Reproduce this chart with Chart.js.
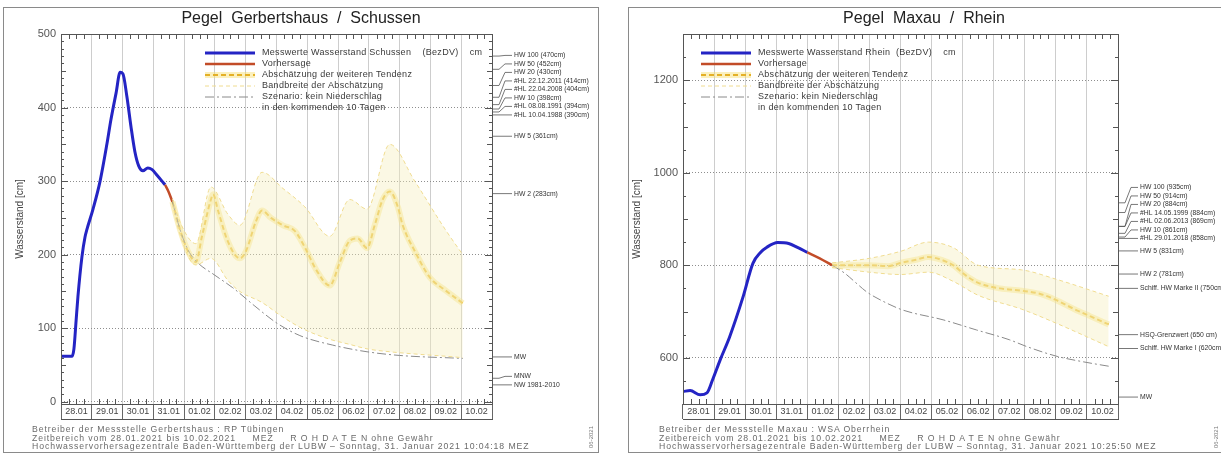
<!DOCTYPE html>
<html>
<head>
<meta charset="utf-8">
<script src="https://cdn.jsdelivr.net/npm/chart.js@4.4.1/dist/chart.umd.min.js"></script>
<style>
  body { margin: 0; width: 1221px; height: 457px; overflow: hidden; background: #fff; font-family: "Liberation Sans", Arial, sans-serif; }
  .panel { position: absolute; top: 7px; height: 446px; border: 1px solid #8a8a8a; box-sizing: border-box; }
  .panel canvas { position: absolute; left: 0; top: 0; }
  .titel { position: absolute; top: 0; left: 0; right: 0; text-align: center; font-size: 16px; line-height: 20px; letter-spacing: 0; color: #222; white-space: pre; }
  .fuss { position: absolute; top: 417px; font-size: 8.7px; line-height: 8.5px; letter-spacing: 0.9px; color: #6a6a6a; white-space: pre; }
  .kenn { position: absolute; font-size: 6px; color: #777; transform: rotate(-90deg); transform-origin: left top; white-space: pre; }
</style>
</head>
<body>
<div class="panel" id="p1" style="left:3px;width:596px;">
  <canvas id="gerbertshaus" width="594" height="444"></canvas>
  <div class="titel">Pegel  Gerbertshaus  /  Schussen</div>
  <div class="fuss" style="left:28px;">Betreiber der Messstelle Gerbertshaus : RP Tübingen
Zeitbereich vom 28.01.2021 bis 10.02.2021     MEZ     R O H D A T E N ohne Gewähr
Hochwasservorhersagezentrale Baden-Württemberg der LUBW – Sonntag, 31. Januar 2021 10:04:18 MEZ</div>
  <div class="kenn" style="left:584px;top:440px;">06-2021</div>
</div>
<div class="panel" id="p2" style="left:628px;width:600px;">
  <canvas id="maxau" width="598" height="444"></canvas>
  <div class="titel" style="right:8px;">Pegel  Maxau  /  Rhein</div>
  <div class="fuss" style="left:30px;">Betreiber der Messstelle Maxau : WSA Oberrhein
Zeitbereich vom 28.01.2021 bis 10.02.2021     MEZ     R O H D A T E N ohne Gewähr
Hochwasservorhersagezentrale Baden-Württemberg der LUBW – Sonntag, 31. Januar 2021 10:25:50 MEZ</div>
  <div class="kenn" style="left:584px;top:440px;">06-2021</div>
</div>

<script>
const dateLabels = ['28.01', '29.01', '30.01', '31.01', '01.02', '02.02', '03.02', '04.02', '05.02', '06.02', '07.02', '08.02', '09.02', '10.02'];

// Pegel Gerbertshaus / Schussen (Tage seit 28.01. 00 Uhr, Wasserstand in cm)
const gMessTage = [0, 0.36, 0.42, 0.49, 0.55, 0.68, 0.78, 0.84, 1.04, 1.27, 1.49, 1.62, 1.79, 1.92, 2.01, 2.14, 2.27, 2.40, 2.53, 2.66, 2.82, 2.95, 3.12, 3.38];
const gMessWerte = [62, 62, 72, 110, 143, 197, 224, 234, 262, 300, 350, 383, 420, 448, 446, 415, 375, 340, 320, 314, 318, 316, 308, 295];
const gVorTage = [3.38, 3.5, 3.62];
const gVorWerte = [295, 285, 272];
const gTendTage = [3.62, 3.86, 4.12, 4.38, 4.58, 4.87, 4.94, 5.10, 5.42, 5.81, 6.01, 6.33, 6.53, 6.82, 7.21, 7.60, 7.92, 8.31, 8.73, 9.06, 9.38, 9.64, 9.94, 10.19, 10.45, 10.68, 10.94, 11.10, 11.49, 11.98, 12.47, 13.05];
const gTendWerte = [272, 235, 205, 190, 225, 275, 282, 260, 218, 195, 205, 245, 260, 250, 240, 232, 210, 178, 158, 190, 219, 222, 209, 240, 275, 286, 265, 240, 205, 169, 152, 134];
const gBandTage = [3.62, 3.86, 4.38, 4.87, 5.42, 5.81, 6.53, 7.21, 7.92, 8.73, 9.38, 9.94, 10.68, 11.49, 12.47, 13.05];
const gBandOben = [276, 245, 215, 292, 255, 240, 312, 290, 265, 225, 275, 262, 350, 300, 235, 200];
const gBandUnten = [268, 228, 186, 195, 165, 150, 135, 115, 98, 85, 78, 72, 68, 65, 62, 60];
const gSzenTage = [3.62, 3.86, 4.12, 4.42, 5.0, 5.58, 6.30, 7.01, 7.76, 8.83, 9.94, 11.0, 13.05];
const gSzenWerte = [272, 235, 207, 190, 172, 155, 130, 107, 90, 77, 68, 63, 59];
const gMarkenNamen = ['HW 100 (470cm)', 'HW 50 (452cm)', 'HW 20 (430cm)', '#HL 22.12.2011 (414cm)', '#HL 22.04.2008 (404cm)', 'HW 10 (398cm)', '#HL 08.08.1991 (394cm)', '#HL 10.04.1988 (390cm)', 'HW 5 (361cm)', 'HW 2 (283cm)', 'MW', 'MNW', 'NW 1981-2010'];
const gMarkenWerte = [470, 452, 430, 414, 404, 398, 394, 390, 361, 283, 61, 32, 23];
const gLegende = ['Messwerte Wasserstand Schussen    (BezDV)    cm', 'Vorhersage', 'Abschätzung der weiteren Tendenz', 'Bandbreite der Abschätzung', 'Szenario: kein Niederschlag', 'in den kommenden 10 Tagen'];

// Pegel Maxau / Rhein
const mMessTage = [0, 0.23, 0.55, 0.77, 0.95, 1.2, 1.5, 1.93, 2.25, 2.5, 2.7, 3.05, 3.4, 3.7, 4.0];
const mMessWerte = [527, 529, 520, 524, 552, 596, 645, 731, 804, 828, 839, 849, 847, 838, 828];
const mVorTage = [4.0, 4.4, 4.8];
const mVorWerte = [828, 815, 800];
const mTendTage = [4.8, 5.3, 6.0, 6.6, 7.0, 7.5, 7.9, 8.3, 8.7, 9.1, 9.5, 10.2, 10.9, 11.5, 12.0, 12.6, 13.1, 13.7];
const mTendWerte = [800, 800, 800, 798, 805, 812, 818, 812, 800, 778, 762, 750, 745, 738, 725, 705, 690, 672];
const mBandTage = [4.8, 6.0, 7.0, 7.9, 8.7, 9.5, 10.9, 12.0, 13.7];
const mBandOben = [805, 815, 830, 850, 838, 800, 790, 770, 733];
const mBandUnten = [795, 785, 780, 785, 765, 735, 705, 675, 624];
const mSzenTage = [4.8, 5.2, 5.6, 5.92, 6.5, 7.08, 8.37, 9.45, 10.5, 11.07, 12.04, 12.9, 13.76];
const mSzenWerte = [800, 783, 760, 742, 720, 703, 682, 660, 639, 624, 603, 591, 581];
const mMarkenNamen = ['HW 100 (935cm)', 'HW 50 (914cm)', 'HW 20 (884cm)', '#HL 14.05.1999 (884cm)', '#HL 02.06.2013 (869cm)', 'HW 10 (861cm)', '#HL 29.01.2018 (858cm)', 'HW 5 (831cm)', 'HW 2 (781cm)', 'Schiff. HW Marke II (750cm)', 'HSQ-Grenzwert (650 cm)', 'Schiff. HW Marke I (620cm)', 'MW'];
const mMarkenWerte = [935, 914, 884, 884, 869, 861, 858, 831, 781, 750, 650, 620, 515];
const mLegende = ['Messwerte Wasserstand Rhein  (BezDV)    cm', 'Vorhersage', 'Abschätzung der weiteren Tendenz', 'Bandbreite der Abschätzung', 'Szenario: kein Niederschlag', 'in den kommenden 10 Tagen'];

const BLAU = '#2424c4', ROT = '#c24c28', GELB = '#e4b026', HALO = 'rgba(247,222,110,0.45)', BAND = '#f0dc90', GRAU = '#8a8a8a';

Chart.defaults.font.family = '"Liberation Sans", Arial, sans-serif';

const punkte = (tage, werte) => tage.map((t, i) => ({ x: t, y: werte[i] }));

// Rahmen, Teilstriche, Datumskaesten, Legende und Kennmarken rechts
const rahmen = {
  id: 'rahmen',
  afterDraw(chart, args, o) {
    const { ctx, chartArea: a, scales: { x, y } } = chart;
    ctx.save();
    ctx.strokeStyle = '#555';
    ctx.lineWidth = 1;
    ctx.setLineDash([]);
    ctx.strokeRect(a.left + 0.5, a.top + 0.5, a.right - a.left, a.bottom - a.top);

    ctx.beginPath();
    y.ticks.forEach(t => {
      if (t.value <= y.min || t.value >= y.max) return;
      const py = Math.round(y.getPixelForValue(t.value)) + 0.5;
      const len = t.value % o.major === 0 ? 7 : (t.value % o.mitte === 0 ? 5 : 3);
      ctx.moveTo(a.left, py); ctx.lineTo(a.left + len, py);
      ctx.moveTo(a.right, py); ctx.lineTo(a.right - len, py);
    });
    for (let q = 1; q < 56; q++) {
      if (q % 4 === 0) continue;
      const px = Math.round(x.getPixelForValue(q / 4)) + 0.5;
      ctx.moveTo(px, a.top); ctx.lineTo(px, a.top + 5);
      ctx.moveTo(px, a.bottom); ctx.lineTo(px, a.bottom - 5);
    }
    const yb = a.bottom + 15.5;
    ctx.moveTo(a.left, yb); ctx.lineTo(a.right + 1, yb);
    ctx.stroke();

    // Legende
    ctx.font = '9px "Liberation Sans", Arial, sans-serif';
    ctx.letterSpacing = '0.3px';
    ctx.textBaseline = 'middle';
    ctx.fillStyle = '#3a3a3a';
    o.legende.forEach((txt, i) => {
      const yy = o.legY + i * 11;
      const x1 = o.legX, x2 = o.legX + 50;
      const strich = (farbe, breite, dash) => {
        ctx.beginPath(); ctx.strokeStyle = farbe; ctx.lineWidth = breite; ctx.setLineDash(dash);
        ctx.moveTo(x1, yy); ctx.lineTo(x2, yy); ctx.stroke();
      };
      if (i === 0) strich(BLAU, 3, []);
      if (i === 1) strich(ROT, 2.5, []);
      if (i === 2) { strich(HALO, 6, []); strich(GELB, 2, [5, 3]); }
      if (i === 3) strich(BAND, 1, [4, 3]);
      if (i === 4) strich(GRAU, 1, [9, 3, 2, 3]);
      ctx.fillText(txt, x2 + 7, yy);
    });

    // Kennmarken rechts neben der Achse, von unten nach oben gestapelt
    ctx.setLineDash([]);
    ctx.letterSpacing = '0px';
    ctx.strokeStyle = '#555';
    ctx.lineWidth = 0.8;
    ctx.font = '6.8px "Liberation Sans", Arial, sans-serif';
    ctx.fillStyle = '#333';
    const py = o.markenWerte.map(v => y.getPixelForValue(v));
    const ly = py.slice();
    for (let i = ly.length - 2; i >= 0; i--) {
      ly[i] = Math.min(py[i], ly[i + 1] - 8.5);
    }
    o.markenNamen.forEach((name, i) => {
      ctx.beginPath();
      ctx.moveTo(a.right, py[i]); ctx.lineTo(a.right + 7, py[i]);
      ctx.lineTo(a.right + 13, ly[i]); ctx.lineTo(a.right + 20, ly[i]);
      ctx.stroke();
      ctx.fillText(name, a.right + 22, ly[i]);
    });
    ctx.restore();
  }
};

function pegelChart(id, d) {
  return new Chart(document.getElementById(id), {
    type: 'line',
    data: {
      datasets: [
        { data: punkte(d.bandTage, d.bandUnten), borderColor: BAND, borderWidth: 1, borderDash: [4, 3] },
        { data: punkte(d.bandTage, d.bandOben), borderColor: BAND, borderWidth: 1, borderDash: [4, 3], fill: 0, backgroundColor: 'rgba(245,238,188,0.4)' },
        { data: punkte(d.szenTage, d.szenWerte), borderColor: GRAU, borderWidth: 1, borderDash: [9, 3, 2, 3] },
        { data: punkte(d.tendTage, d.tendWerte), borderColor: HALO, borderWidth: 6 },
        { data: punkte(d.tendTage, d.tendWerte), borderColor: GELB, borderWidth: 2, borderDash: [5, 3] },
        { data: punkte(d.vorTage, d.vorWerte), borderColor: ROT, borderWidth: 2.5 },
        { data: punkte(d.messTage, d.messWerte), borderColor: BLAU, borderWidth: 3 }
      ]
    },
    options: {
      responsive: false,
      animation: false,
      events: [],
      layout: { padding: { left: 0, top: 26, right: d.rechts, bottom: 0 } },
      elements: { point: { radius: 0 }, line: { cubicInterpolationMode: 'monotone', fill: false } },
      plugins: {
        legend: { display: false },
        tooltip: { enabled: false },
        rahmen: {
          major: d.yMajor, mitte: d.yMitte, legX: d.legX, legY: 45,
          legende: d.legende, markenNamen: d.markenNamen, markenWerte: d.markenWerte
        }
      },
      scales: {
        x: {
          type: 'linear', min: 0, max: 14,
          ticks: { stepSize: 1, display: false },
          grid: { color: '#cdcdcd', drawTicks: false },
          border: { display: false },
          afterFit: s => { s.height = 0; }
        },
        xd: {
          type: 'category', labels: dateLabels, offset: true, position: 'bottom',
          grid: { offset: true, drawOnChartArea: false, tickLength: 15, tickColor: '#666', color: '#666' },
          border: { display: false },
          ticks: { padding: -13, color: '#444', font: { size: 9 }, autoSkip: false, maxRotation: 0 },
          afterFit: s => { s.height = 48; }
        },
        y: {
          min: d.yMin, max: d.yMax,
          ticks: {
            stepSize: d.yStep, autoSkip: false, padding: 5, color: '#555', font: { size: 11 },
            callback: v => (v % d.yMajor === 0 ? v : '')
          },
          afterBuildTicks: s => {
            const t = [];
            for (let v = Math.ceil(d.yMin / d.yStep) * d.yStep; v <= d.yMax; v += d.yStep) t.push({ value: v });
            s.ticks = t;
          },
          grid: {
            drawTicks: false,
            color: c => (c.tick && c.tick.value % d.yMajor === 0 && c.tick.value > d.yMin && c.tick.value < d.yMax) ? '#8e8e8e' : 'rgba(0,0,0,0)'
          },
          border: { display: false, dash: [1, 2] },
          title: { display: true, text: 'Wasserstand [cm]', color: '#444', font: { size: 10 }, padding: { top: d.titelAbstand, bottom: 0 } },
          afterFit: s => { s.width = d.links; }
        }
      }
    },
    plugins: [rahmen]
  });
}

pegelChart('gerbertshaus', {
  messTage: gMessTage, messWerte: gMessWerte, vorTage: gVorTage, vorWerte: gVorWerte,
  tendTage: gTendTage, tendWerte: gTendWerte, bandTage: gBandTage, bandOben: gBandOben, bandUnten: gBandUnten,
  szenTage: gSzenTage, szenWerte: gSzenWerte, markenNamen: gMarkenNamen, markenWerte: gMarkenWerte, legende: gLegende,
  yMin: -3, yMax: 500, yStep: 10, yMajor: 100, yMitte: 50,
  links: 57, rechts: 594 - 488, legX: 201, titelAbstand: 10
});

pegelChart('maxau', {
  messTage: mMessTage, messWerte: mMessWerte, vorTage: mVorTage, vorWerte: mVorWerte,
  tendTage: mTendTage, tendWerte: mTendWerte, bandTage: mBandTage, bandOben: mBandOben, bandUnten: mBandUnten,
  szenTage: mSzenTage, szenWerte: mSzenWerte, markenNamen: mMarkenNamen, markenWerte: mMarkenWerte, legende: mLegende,
  yMin: 500, yMax: 1300, yStep: 50, yMajor: 200, yMitte: 100,
  links: 54, rechts: 598 - 489, legX: 72, titelAbstand: 2
});
</script>
</body>
</html>
